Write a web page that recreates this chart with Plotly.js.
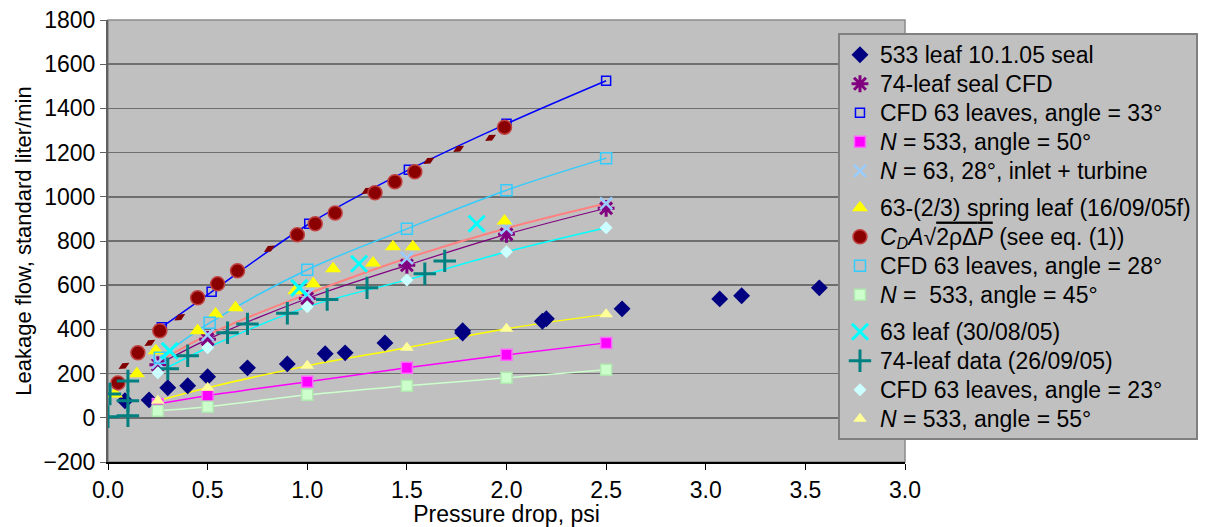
<!DOCTYPE html>
<html><head><meta charset="utf-8">
<script src="https://cdn.plot.ly/plotly-3.0.1.min.js"></script>
<style>body{margin:0;background:#fff}#c{width:1210px;height:527px}</style>
</head><body><div id="c"></div>
<script>
// ---- data ----
const seal533X = [0.085,0.206,0.3,0.4,0.5,0.7,0.9,1.09,1.19,1.39,1.78,1.78,2.18,2.2,2.58,3.07,3.18,3.57];
const seal533Y = [77,81,136,145,186,226,244,290,294,339,384,394,437,448,493,538,552,588];
const cfd74X = [0.25,0.5,1.0,1.5,2.0,2.5];
const cfd74Y = [240,355,540,690,830,948];
const cfd33X = [0.27,0.52,1.01,1.51,2.0,2.5];
const cfd33Y = [410,570,878,1122,1330,1525];
const n533a50X = [0.25,0.5,1.0,1.5,2.0,2.5];
const n533a50Y = [63,100,163,226,285,339];
const n63inletX = [0.25,0.5,1.0,1.5,2.0,2.5];
const n63inletY = [250,375,560,722,858,970];
const springX = [0.035,0.145,0.24,0.45,0.54,0.64,0.94,1.03,1.13,1.33,1.43,1.53,1.99];
const springY = [108,199,303,394,470,498,575,606,674,701,774,774,891];
const cdX = [0.05,0.15,0.26,0.45,0.55,0.65,0.95,1.04,1.14,1.34,1.44,1.54,1.99];
const cdY = [158,294,394,543,606,665,828,878,927,1018,1068,1113,1315];
const cdMarkX = [0.08,0.21,0.36,0.81,1.30,1.61,1.76,1.92];
const cdMarkY = [235,339,455,765,1027,1163,1217,1267];
const cfd28X = [0.26,0.51,1.0,1.5,2.0,2.5];
const cfd28Y = [272,430,670,855,1030,1175];
const n533a45X = [0.25,0.5,1.0,1.5,2.0,2.5];
const n533a45Y = [32,50,104,145,181,217];
const leaf63X = [0.31,0.96,1.26,1.85];
const leaf63Y = [303,588,697,878];
const data74X = [0,0.01,0.1,0.1,0.1,0.3,0.4,0.6,0.7,0.9,1.1,1.3,1.59,1.69];
const data74Y = [5,108,9,77,167,222,281,385,425,473,535,588,652,710];
const cfd23X = [0.25,0.5,1.0,1.5,2.0,2.5];
const cfd23Y = [204,317,502,624,751,860];
const n533a55X = [0.25,0.5,1.0,1.5,2.0,2.5];
const n533a55Y = [77,136,235,317,403,468];

const xTickVals = [0,0.5,1.0,1.5,2.0,2.5,3.0,3.5,4.0];
const xTickText = ['0.0','0.5','1.0','1.5','2.0','2.5','3.0','3.5','3.0'];
const yTickVals = [-200,0,200,400,600,800,1000,1200,1400,1600,1800];

const names = [
  '533 leaf 10.1.05 seal',
  '74-leaf seal CFD',
  'CFD 63 leaves, angle = 33°',
  '<i>N</i> = 533, angle = 50°',
  '<i>N</i> = 63, 28°, inlet + turbine',
  '63-(2/3) spring leaf (16/09/05f)',
  '<i>C<sub>D</sub>A</i>√<span style="text-decoration:overline">2ρΔ<i>P</i></span> (see eq. (1))',
  'CFD 63 leaves, angle = 28°',
  '<i>N</i> =  533, angle = 45°',
  '63 leaf (30/08/05)',
  '74-leaf data (26/09/05)',
  'CFD 63 leaves, angle = 23°',
  '<i>N</i> = 533, angle = 55°'
].map(s => '<span style="font-size:23px">' + s + '</span>');

function line(x, y, color, w) {
  return {x, y, type:'scatter', mode:'lines', line:{color, width:w, shape:'spline'},
          showlegend:false, hoverinfo:'skip'};
}
function pts(x, y, name, group, marker) {
  return {x, y, name, legendgroup:group, type:'scatter', mode:'markers', marker};
}

const traces = [
  line(n533a45X, n533a45Y, '#ccffcc', 1.5),
  line(n533a50X, n533a50Y, '#ff00ff', 1.5),
  line(n533a55X, n533a55Y, '#ffff00', 1.5),
  line(cfd23X, cfd23Y, '#00ffff', 1.5),
  line(cfd74X, cfd74Y, '#800080', 1.2),
  line(n63inletX, n63inletY, '#ff8080', 2),
  line(cfd28X, cfd28Y, '#33ccff', 1.5),
  line(cfd33X, cfd33Y, '#0000ff', 1.5),
  {x:cdMarkX, y:cdMarkY, type:'scatter', mode:'markers', showlegend:false, hoverinfo:'skip',
   marker:{symbol:'diamond-wide', size:9, angle:-30, color:'#800000'}},

  pts(seal533X, seal533Y, names[0], 'g1', {symbol:'diamond', size:13, color:'#000080'}),
  pts(cfd74X, cfd74Y, names[1], 'g1', {symbol:'asterisk-open', size:14, color:'#800080', line:{color:'#800080', width:3}}),
  pts(cfd33X, cfd33Y, names[2], 'g1', {symbol:'square-open', size:9, color:'#0000ff', line:{color:'#0000ff', width:1.5}}),
  pts(n533a50X, n533a50Y, names[3], 'g1', {symbol:'square', size:11, color:'#ff00ff', line:{color:'#ff66ff', width:1.5}}),
  pts(n63inletX, n63inletY, names[4], 'g1', {symbol:'x-thin-open', size:12, color:'#99ccff', line:{color:'#99ccff', width:2.5}}),

  pts(springX, springY, names[5], 'g2', {symbol:'triangle-up', size:14, color:'#ffff00'}),
  pts(cdX, cdY, names[6], 'g2', {symbol:'circle', size:14, color:'#8b0000', line:{color:'#c04040', width:1.5}}),
  pts(cfd28X, cfd28Y, names[7], 'g2', {symbol:'square-open', size:11, color:'#33ccff', line:{color:'#33ccff', width:1.5}}),
  pts(n533a45X, n533a45Y, names[8], 'g2', {symbol:'square', size:11, color:'#ccffcc', line:{color:'#b0e8b0', width:1.5}}),

  pts(leaf63X, leaf63Y, names[9], 'g3', {symbol:'x-thin-open', size:16, color:'#00ffff', line:{color:'#00ffff', width:3}}),
  pts(data74X, data74Y, names[10], 'g3', {symbol:'cross-thin-open', size:16, color:'#008080', line:{color:'#008080', width:3}}),
  pts(cfd23X, cfd23Y, names[11], 'g3', {symbol:'diamond', size:10, color:'#ccffff'}),
  pts(n533a55X, n533a55Y, names[12], 'g3', {symbol:'triangle-up', size:12, color:'#ffff99'})
];

const font = 'Liberation Sans, Arial, sans-serif';
const layout = {
  width:1210, height:527,
  margin:{l:108, r:305, t:20, b:65},
  paper_bgcolor:'#ffffff', plot_bgcolor:'#c0c0c0',
  font:{family:font, size:20, color:'#000'},
  xaxis:{range:[0,4], tickvals:xTickVals, ticktext:xTickText, showgrid:false, zeroline:false,
         showline:true, linecolor:'#000', linewidth:2, ticks:'outside', ticklen:6, tickcolor:'#000',
         tickfont:{size:23}, title:{text:'Pressure drop, psi', font:{size:23}, standoff:2}},
  yaxis:{range:[-200,1800], tickvals:yTickVals, showgrid:true, gridcolor:'#6e6e6e', gridwidth:1.5,
         zeroline:false, showline:true, linecolor:'#606060', linewidth:2, ticks:'outside', ticklen:6,
         tickcolor:'#606060', tickfont:{size:23},
         title:{text:'Leakage flow, standard liter/min', font:{size:22}, standoff:6}},
  shapes:[{type:'rect', xref:'paper', yref:'paper', x0:0, x1:1, y0:0, y1:1,
           line:{color:'#8a8a8a', width:1.5}, layer:'below'}],
  legend:{x:0.9159, y:0.970, xanchor:'left', yanchor:'top', bgcolor:'#c0c0c0',
          bordercolor:'#808080', borderwidth:2, font:{family:font, size:20, color:'#000'},
          tracegroupgap:8, traceorder:'grouped'},
  showlegend:true
};
Plotly.newPlot('c', traces, layout, {staticPlot:true});
</script></body></html>
